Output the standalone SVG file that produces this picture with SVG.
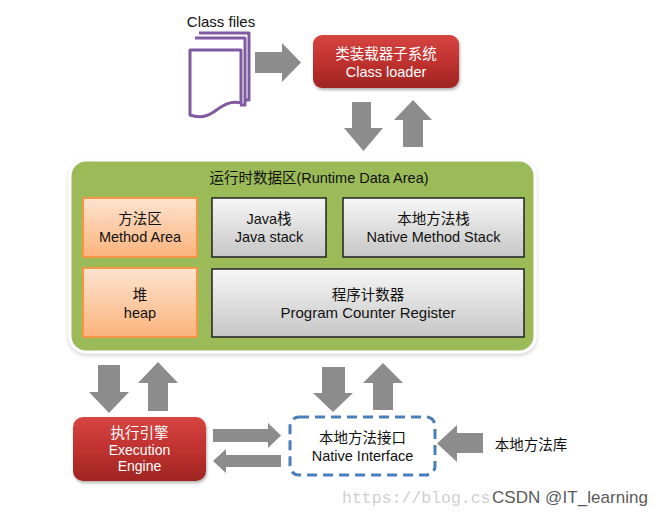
<svg xmlns="http://www.w3.org/2000/svg" width="662" height="517" viewBox="0 0 662 517">
<defs>
  <linearGradient id="gRed" x1="0" y1="0" x2="0" y2="1">
    <stop offset="0" stop-color="#d64541"/>
    <stop offset="0.5" stop-color="#c0312f"/>
    <stop offset="1" stop-color="#9e2522"/>
  </linearGradient>
  <linearGradient id="gOrange" x1="0" y1="0" x2="0" y2="1">
    <stop offset="0" stop-color="#fde3cf"/>
    <stop offset="1" stop-color="#fbb37c"/>
  </linearGradient>
  <linearGradient id="gGray" x1="0" y1="0" x2="0" y2="1">
    <stop offset="0" stop-color="#f7f7f7"/>
    <stop offset="1" stop-color="#c6c6c6"/>
  </linearGradient>
  <filter id="shadow" x="-10%" y="-10%" width="125%" height="130%">
    <feDropShadow dx="1" dy="2" stdDeviation="1.5" flood-color="#000" flood-opacity="0.3"/>
  </filter>
  <filter id="glow" x="-5%" y="-5%" width="110%" height="115%">
    <feDropShadow dx="0" dy="2" stdDeviation="2" flood-color="#000" flood-opacity="0.18"/>
  </filter>
</defs>
<style>
  text { font-family: "Liberation Sans", "Noto Sans CJK SC", sans-serif; text-anchor: middle; font-size: 14.5px; }
  .cjk { font-family: "Noto Sans CJK SC", sans-serif; }
  .w { fill: #ffffff; }
  .b { fill: #111111; }
  .arrow { fill: #8c8c8c; }
  .orange { fill: url(#gOrange); stroke: #f79646; stroke-width: 2; }
  .gray { fill: url(#gGray); stroke: #222; stroke-width: 1.5; }
  .red { fill: url(#gRed); }
  .page { fill: #ffffff; stroke: #7f5aa2; stroke-width: 3; stroke-linejoin: round; }
</style>
<rect width="662" height="517" fill="#ffffff"/>

<g id="class-files">
  <text x="221" y="27" class="b" style="font-size:15px">Class files</text>
  <path class="page" d="M199,33 L249,33 L249,100 L240,100"/>
  <path class="page" d="M195,38 L245,38 L245,105 L240,105"/>
  <path class="page" d="M190,50 L241,50 L241,103 C228,100 220,108 212,113 C204,118 196,117 190,115 Z"/>
</g>

<g id="class-loader">
  <rect x="313" y="35" width="146" height="53" rx="9" class="red" filter="url(#shadow)"/>
  <text x="386" y="58.5" class="w cjk">类装载器子系统</text>
  <text x="386" y="77" class="w">Class loader</text>
</g>

<g id="runtime-data-area">
  <rect x="70" y="160" width="465" height="192" rx="16" fill="#9bbb59" stroke="#ffffff" stroke-width="3" filter="url(#glow)"/>
  <text x="319" y="183" class="b">运行时数据区(Runtime Data Area)</text>
</g>

<g id="method-area">
  <rect x="83" y="198" width="114" height="59" class="orange"/>
  <text x="140" y="223.5" class="b cjk">方法区</text>
  <text x="140" y="241.5" class="b">Method Area</text>
</g>

<g id="java-stack">
  <rect x="212" y="198" width="114" height="59" class="gray"/>
  <text x="269" y="223.5" class="b">Java栈</text>
  <text x="269" y="241.5" class="b">Java stack</text>
</g>

<g id="native-method-stack">
  <rect x="343" y="198" width="181" height="59" class="gray"/>
  <text x="433.5" y="223.5" class="b cjk">本地方法栈</text>
  <text x="433.5" y="241.5" class="b">Native Method Stack</text>
</g>

<g id="heap">
  <rect x="83" y="268" width="114" height="69" class="orange"/>
  <text x="140" y="299.5" class="b cjk">堆</text>
  <text x="140" y="317.5" class="b">heap</text>
</g>

<g id="program-counter">
  <rect x="212" y="269" width="312" height="68" class="gray"/>
  <text x="368" y="299.5" class="b cjk">程序计数器</text>
  <text x="368" y="317.5" class="b" style="font-size:15px">Program Counter Register</text>
</g>

<g id="execution-engine">
  <rect x="73" y="417" width="133" height="64" rx="10" class="red" filter="url(#shadow)"/>
  <text x="139.5" y="437.5" class="w cjk">执行引擎</text>
  <text x="139.5" y="455" class="w" style="font-size:14px">Execution</text>
  <text x="139.5" y="471" class="w" style="font-size:14px">Engine</text>
</g>

<g id="native-interface">
  <rect x="290" y="417" width="145" height="58" rx="9" fill="#ffffff" stroke="#4a7ebb" stroke-width="3" stroke-dasharray="10,6"/>
  <text x="362.5" y="442.5" class="b cjk">本地方法接口</text>
  <text x="362.5" y="460.5" class="b">Native Interface</text>
</g>

<g id="native-library">
  <text x="531" y="450" class="b cjk">本地方法库</text>
</g>

<g id="connectors">
  <polygon class="arrow" points="255,52 282,52 282,43 301,62.5 282,82 282,73 255,73"/>
  <polygon class="arrow" points="352,102 371,102 371,128 383,128 363.5,151 344,128 352,128"/>
  <polygon class="arrow" points="413,100 432,120 423,120 423,147 403,147 403,120 394,120"/>
  <polygon class="arrow" points="98,365 120,365 120,392 129,392 109,413 89,392 98,392"/>
  <polygon class="arrow" points="158,362 178,383 168,383 168,411 148,411 148,383 138,383"/>
  <polygon class="arrow" points="322,367 345,367 345,393 353,393 333,412 313,393 322,393"/>
  <polygon class="arrow" points="383,363 403,383 393,383 393,410 373,410 373,383 363,383"/>
  <polygon class="arrow" points="213,429 268,429 268,423 281,435.5 268,448 268,442 213,442"/>
  <polygon class="arrow" points="281,455 226,455 226,449 213,461 226,473 226,467 281,467"/>
  <polygon class="arrow" points="483,433 457,433 457,425 437,443.5 457,462 457,453 483,453"/>
</g>

<g id="watermark">
  <text x="342" y="503" style="font-family:'Liberation Mono',monospace;font-size:16.5px;fill:#cfcfcf;text-anchor:start">https://blog.cs</text>
  <text x="492" y="503" textLength="156" style="font-family:'Liberation Sans',sans-serif;font-size:17px;fill:#5a5a5a;text-anchor:start">CSDN @IT_learning</text>
</g>
</svg>
